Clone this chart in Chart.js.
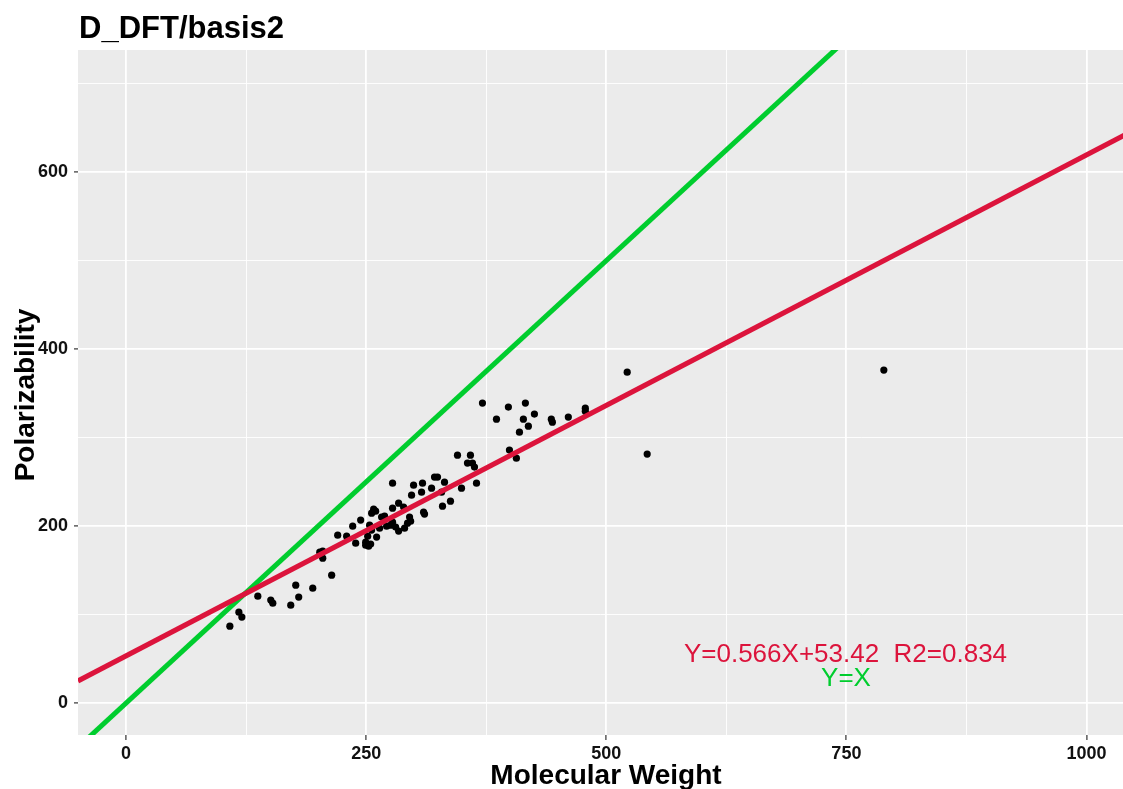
<!DOCTYPE html>
<html>
<head>
<meta charset="utf-8">
<script src="https://cdn.jsdelivr.net/npm/chart.js@4/dist/chart.umd.min.js"></script>
<style>
  html, body { margin: 0; padding: 0; background: #ffffff; overflow: hidden; }
  #wrap { width: 1123px; height: 789px; position: relative; }
</style>
</head>
<body>
<div id="wrap"><canvas id="c" width="1123" height="789"></canvas></div>
<script>
// ---- data ----
const molWeight = [
  108.1, 117.5, 120.6, 137.2, 150.7, 152.8, 171.5, 179.8, 176.7, 194.4,
  214.1, 201.7, 204.8, 204.8, 220.4, 229.7, 239.1, 236.0, 244.3, 249.5,
  251.6, 252.6, 254.7, 260.9, 255.7, 257.8, 259.9, 264.0, 266.1, 269.2,
  271.3, 277.5, 277.5, 277.5, 280.7, 283.8, 283.8, 289.0, 293.1, 295.2,
  296.3, 299.4, 297.3, 307.7, 308.7, 309.8, 310.8, 318.1, 321.2, 324.3,
  328.5, 331.6, 329.5, 337.8, 345.1, 349.3, 355.5, 358.6, 360.7, 362.8,
  364.9, 371.1, 385.7, 398.1, 399.2, 406.4, 409.6, 413.7, 415.8, 418.9,
  425.2, 442.8, 443.9, 460.5, 478.2, 478.2, 521.8, 542.6, 789.0,
  253.6, 255.7, 275.5, 290.0, 249.5
];
const polarizability = [
  87.0, 102.8, 97.2, 120.9, 116.4, 113.0, 110.7, 119.8, 133.3, 129.9,
  144.6, 170.6, 171.8, 163.8, 189.8, 188.7, 180.8, 200.0, 206.8, 181.9,
  188.7, 177.4, 179.7, 187.6, 214.7, 219.2, 216.9, 197.7, 210.2, 211.3,
  200.0, 248.6, 220.3, 204.5, 198.9, 226.0, 194.4, 221.5, 203.4, 210.2,
  205.6, 246.3, 235.0, 238.4, 248.6, 215.8, 213.6, 242.9, 255.4, 255.4,
  238.4, 249.7, 222.6, 228.2, 280.2, 242.9, 271.2, 280.2, 271.2, 266.7,
  248.6, 339.0, 320.9, 334.5, 285.9, 276.8, 306.2, 320.9, 339.0, 313.0,
  326.6, 320.9, 317.5, 323.2, 333.3, 329.9, 374.0, 281.4, 376.3,
  201.1, 195.5, 201.1, 197.7, 178.5
];
// regression line (Y=0.566X+53.42) and identity line endpoints
const fitLineX = [-50, 1040];
const fitLineY = [25.1, 642.1];
const identityX = [-50, 1040];
const identityY = [-50, 1040];

const xTickValues = [0, 125, 250, 375, 500, 625, 750, 875, 1000];
const xTickLabels = ['0', '', '250', '', '500', '', '750', '', '1000'];
const yTickValues = [0, 100, 200, 300, 400, 500, 600, 700];
const yTickLabels = ['0', '', '200', '', '400', '', '600', ''];

const chartTitle = 'D_DFT/basis2';
const xTitle = 'Molecular Weight';
const yTitle = 'Polarizability';
const fitLabel = 'Y=0.566X+53.42  R2=0.834';
const identityLabel = 'Y=X';

// ---- styling ----
const RED = '#DC143C';
const GREEN = '#00CD2E';
const FONT = '"Liberation Sans", Arial, sans-serif';

const scatterData = molWeight.map((x, i) => ({ x: x, y: polarizability[i] }));
const fitData = fitLineX.map((x, i) => ({ x: x, y: fitLineY[i] }));
const idData = identityX.map((x, i) => ({ x: x, y: identityY[i] }));

const decorPlugin = {
  id: 'decor',
  beforeDraw(chart) {
    const ctx = chart.ctx;
    const a = chart.chartArea;
    ctx.save();
    ctx.fillStyle = '#ffffff';
    ctx.fillRect(0, 0, chart.width, chart.height);
    ctx.fillStyle = '#EBEBEB';
    ctx.fillRect(a.left, a.top, a.right - a.left, a.bottom - a.top);
    ctx.restore();
  },
  afterDraw(chart) {
    const ctx = chart.ctx;
    ctx.save();
    ctx.fillStyle = '#000000';
    ctx.textAlign = 'left';
    ctx.textBaseline = 'alphabetic';
    ctx.font = 'bold 31px ' + FONT;
    ctx.fillText(chartTitle, 79, 38);

    ctx.font = 'bold 28px ' + FONT;
    ctx.textAlign = 'center';
    ctx.fillText(xTitle, 606, 784);

    ctx.save();
    ctx.translate(34, 395);
    ctx.rotate(-Math.PI / 2);
    ctx.fillText(yTitle, 0, 0);
    ctx.restore();

    ctx.font = '26px ' + FONT;
    ctx.fillStyle = RED;
    ctx.fillText(fitLabel, 845.5, 662);
    ctx.fillStyle = GREEN;
    ctx.fillText(identityLabel, 846, 686);
    ctx.restore();
  }
};

function isMajor(list, labels, v) {
  const i = list.indexOf(v);
  return i >= 0 && labels[i] !== '';
}

new Chart(document.getElementById('c'), {
  type: 'scatter',
  data: {
    datasets: [
      {
        type: 'line',
        data: fitData,
        borderColor: RED,
        borderWidth: 5,
        pointRadius: 0,
        fill: false,
        clip: 0,
        order: 0
      },
      {
        type: 'line',
        data: idData,
        borderColor: GREEN,
        borderWidth: 5,
        pointRadius: 0,
        fill: false,
        clip: 0,
        order: 0
      },
      {
        type: 'scatter',
        data: scatterData,
        backgroundColor: '#000000',
        borderColor: '#000000',
        borderWidth: 0,
        pointRadius: 3.6,
        order: 1
      }
    ]
  },
  plugins: [decorPlugin],
  options: {
    responsive: false,
    animation: false,
    devicePixelRatio: 1,
    layout: { autoPadding: false, padding: { top: 50, left: 0, right: 0, bottom: 0 } },
    plugins: {
      legend: { display: false },
      title: { display: false },
      tooltip: { enabled: false }
    },
    scales: {
      x: {
        type: 'linear',
        min: -50,
        max: 1038,
        afterFit(scale) {
          scale.height = 54;
          scale.paddingLeft = 0; scale.paddingRight = 0;
        },
        afterBuildTicks(scale) { scale.ticks = xTickValues.map(v => ({ value: v })); },
        border: { display: false },
        grid: {
          color: '#ffffff',
          lineWidth: ctx => isMajor(xTickValues, xTickLabels, ctx.tick.value) ? 1.8 : 0.9,
          tickLength: 5,
          tickWidth: 1.2,
          tickColor: ctx => isMajor(xTickValues, xTickLabels, ctx.tick.value) ? '#333333' : 'rgba(0,0,0,0)'
        },
        ticks: {
          autoSkip: false,
          maxRotation: 0,
          padding: 3,
          color: '#111111',
          font: { family: FONT, size: 18, weight: 'bold' },
          callback: v => { const i = xTickValues.indexOf(v); return i >= 0 ? xTickLabels[i] : ''; }
        }
      },
      y: {
        type: 'linear',
        min: -36,
        max: 738,
        afterFit(scale) {
          scale.width = 78;
          scale.paddingLeft = 0; scale.paddingRight = 0;
          scale.paddingTop = 0; scale.paddingBottom = 0;
        },
        afterBuildTicks(scale) { scale.ticks = yTickValues.map(v => ({ value: v })); },
        border: { display: false },
        grid: {
          color: '#ffffff',
          lineWidth: ctx => isMajor(yTickValues, yTickLabels, ctx.tick.value) ? 1.8 : 0.9,
          tickLength: 4,
          tickWidth: 1.2,
          tickColor: ctx => isMajor(yTickValues, yTickLabels, ctx.tick.value) ? '#333333' : 'rgba(0,0,0,0)'
        },
        ticks: {
          autoSkip: false,
          padding: 6,
          color: '#111111',
          font: { family: FONT, size: 18, weight: 'bold' },
          callback: v => { const i = yTickValues.indexOf(v); return i >= 0 ? yTickLabels[i] : ''; }
        }
      }
    }
  }
});
</script>
</body>
</html>
